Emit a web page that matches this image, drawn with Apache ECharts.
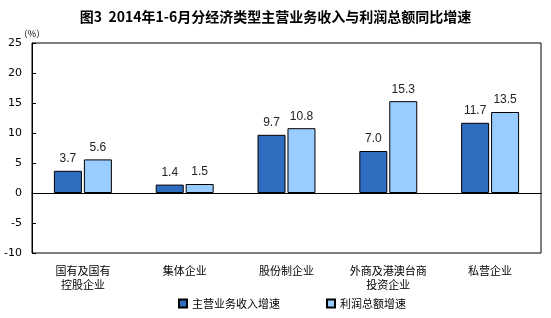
<!DOCTYPE html>
<html><head><meta charset="utf-8">
<script src="https://cdn.jsdelivr.net/npm/echarts@6/dist/echarts.min.js"></script>
<style>html,body{margin:0;padding:0;background:#fff}#c{width:551px;height:318px}</style>
</head><body><div id="c"></div>
<script>
const categories = ['国有及国有\n控股企业', '集体企业', '股份制企业', '外商及港澳台商\n投资企业', '私营企业'];
const revenueGrowth = [3.7, 1.4, 9.7, 7.0, 11.7];
const profitGrowth = [5.6, 1.5, 10.8, 15.3, 13.5];
const seriesNames = ['主营业务收入增速', '利润总额增速'];
const yTicks = { min: -10, max: 25, interval: 5 };

const font = '"Noto Sans CJK SC", "DejaVu Sans", sans-serif';
const chart = echarts.init(document.getElementById('c'));
chart.setOption({
  animation: false,
  textStyle: { fontFamily: font },
  title: {
    text: '图3  2014年1-6月分经济类型主营业务收入与利润总额同比增速',
    left: 'center', top: 5,
    textStyle: { fontSize: 14, fontWeight: 'bold', color: '#000', fontFamily: font }
  },
  grid: { left: 32, right: 10, top: 43, bottom: 65, show: true, borderColor: '#000', borderWidth: 1 },
  legend: {
    bottom: 4, left: 173, itemWidth: 8, itemHeight: 8, itemGap: 46,
    icon: 'rect',
    textStyle: { fontSize: 11, color: '#000', fontFamily: font },
    data: seriesNames
  },
  xAxis: {
    type: 'category', data: categories,
    axisLine: { onZero: true, lineStyle: { color: '#000', width: 1 } },
    axisTick: { show: false },
    axisLabel: {
      interval: 0, color: '#000', fontSize: 11, lineHeight: 14, fontFamily: font,
      margin: 11
    },
    position: 'bottom'
  },
  yAxis: {
    type: 'value', min: yTicks.min, max: yTicks.max, interval: yTicks.interval,
    name: '（%）', nameLocation: 'end', nameGap: 2,
    nameTextStyle: { fontSize: 9, color: '#000', align: 'center' },
    axisLine: { show: true, lineStyle: { color: '#000' } },
    axisTick: { show: true, inside: true, length: 4, lineStyle: { color: '#000' } },
    axisLabel: { color: '#000', fontSize: 11, margin: 10, fontFamily: 'DejaVu Sans' },
    splitLine: { show: false }
  },
  series: [
    {
      name: seriesNames[0], type: 'bar', data: revenueGrowth,
      barWidth: 28, barGap: '7%',
      itemStyle: { color: '#2e6dbf', borderColor: '#000', borderWidth: 1 },
      label: { show: true, position: 'top', distance: 6, fontSize: 12, color: '#222', fontFamily: 'Liberation Sans',
        formatter: p => p.value.toFixed(1) }
    },
    {
      name: seriesNames[1], type: 'bar', data: profitGrowth,
      barWidth: 28, barGap: '7%',
      itemStyle: { color: '#99ccff', borderColor: '#000', borderWidth: 1 },
      label: { show: true, position: 'top', distance: 6, fontSize: 12, color: '#222', fontFamily: 'Liberation Sans',
        formatter: p => p.value.toFixed(1) }
    }
  ]
});
</script></body></html>
